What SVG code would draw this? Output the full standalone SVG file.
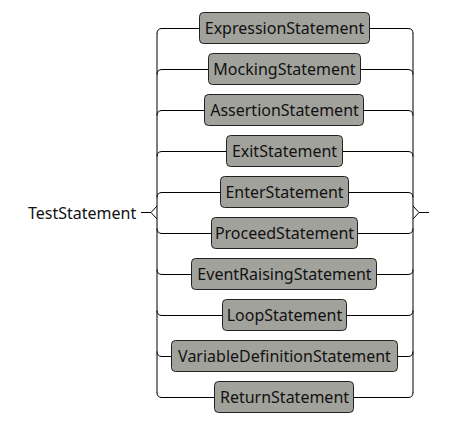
<svg xmlns="http://www.w3.org/2000/svg" width="471" height="426" viewBox="0 0 471 426">
<style>
.box{fill:#a2a29c;stroke:#222;stroke-width:1}
.lbl{font-family:"Noto Sans","Open Sans",sans-serif;font-size:16px;fill:#111;text-anchor:middle}
.ln{fill:none;stroke:#000;stroke-width:1}
</style>
<rect width="471" height="426" fill="#fff"/>
<text x="28" y="218.5" style="font-family:'Noto Sans','Open Sans',sans-serif;font-size:16px;fill:#111">TestStatement</text>
<g id="connectors" class="ln">
<path d="M141,212.5 H151 M157,206 L151,212.5 L157,219"/>
<path d="M157,33 V393"/>
<path d="M413,33 V393"/>
<path d="M413,206 L419,212.5 L413,219 M419,212.5 H429"/>
<path d="M157,33.5 Q157,28.5 162,28.5 H199.5 M369.5,28.5 H408 Q413,28.5 413,33.5"/>
<path d="M157,74.5 Q157,69.5 162,69.5 H208.5 M360.5,69.5 H408 Q413,69.5 413,74.5"/>
<path d="M157,115.5 Q157,110.5 162,110.5 H204.5 M363.5,110.5 H408 Q413,110.5 413,115.5"/>
<path d="M157,156.5 Q157,151.5 162,151.5 H226.5 M342.5,151.5 H408 Q413,151.5 413,156.5"/>
<path d="M157,197.5 Q157,192.5 162,192.5 H220.5 M348.5,192.5 H408 Q413,192.5 413,197.5"/>
<path d="M157,228.5 Q157,233.5 162,233.5 H211.5 M357.5,233.5 H408 Q413,233.5 413,228.5"/>
<path d="M157,269.5 Q157,274.5 162,274.5 H191.5 M376.5,274.5 H408 Q413,274.5 413,269.5"/>
<path d="M157,310.5 Q157,315.5 162,315.5 H222.5 M346.5,315.5 H408 Q413,315.5 413,310.5"/>
<path d="M157,351.5 Q157,356.5 162,356.5 H171.5 M397.5,356.5 H408 Q413,356.5 413,351.5"/>
<path d="M157,392.5 Q157,397.5 162,397.5 H214.5 M353.5,397.5 H408 Q413,397.5 413,392.5"/>
</g>
<g id="n1"><rect class="box" x="199.5" y="12.5" width="170" height="31" rx="4"/><text class="lbl" x="284.5" y="34">ExpressionStatement</text></g>
<g id="n2"><rect class="box" x="208.5" y="53.5" width="152" height="31" rx="4"/><text class="lbl" x="284.5" y="75">MockingStatement</text></g>
<g id="n3"><rect class="box" x="204.5" y="94.5" width="159" height="31" rx="4"/><text class="lbl" x="284.5" y="116">AssertionStatement</text></g>
<g id="n4"><rect class="box" x="226.5" y="135.5" width="116" height="31" rx="4"/><text class="lbl" x="284.5" y="157">ExitStatement</text></g>
<g id="n5"><rect class="box" x="220.5" y="176.5" width="128" height="31" rx="4"/><text class="lbl" x="284.5" y="198">EnterStatement</text></g>
<g id="n6"><rect class="box" x="211.5" y="217.5" width="146" height="31" rx="4"/><text class="lbl" x="284.5" y="239">ProceedStatement</text></g>
<g id="n7"><rect class="box" x="191.5" y="258.5" width="185" height="31" rx="4"/><text class="lbl" x="284.5" y="280">EventRaisingStatement</text></g>
<g id="n8"><rect class="box" x="222.5" y="299.5" width="124" height="31" rx="4"/><text class="lbl" x="284.5" y="321">LoopStatement</text></g>
<g id="n9"><rect class="box" x="171.5" y="340.5" width="226" height="31" rx="4"/><text class="lbl" x="284.5" y="362">VariableDefinitionStatement</text></g>
<g id="n10"><rect class="box" x="214.5" y="381.5" width="139" height="31" rx="4"/><text class="lbl" x="284.5" y="403">ReturnStatement</text></g>
</svg>
